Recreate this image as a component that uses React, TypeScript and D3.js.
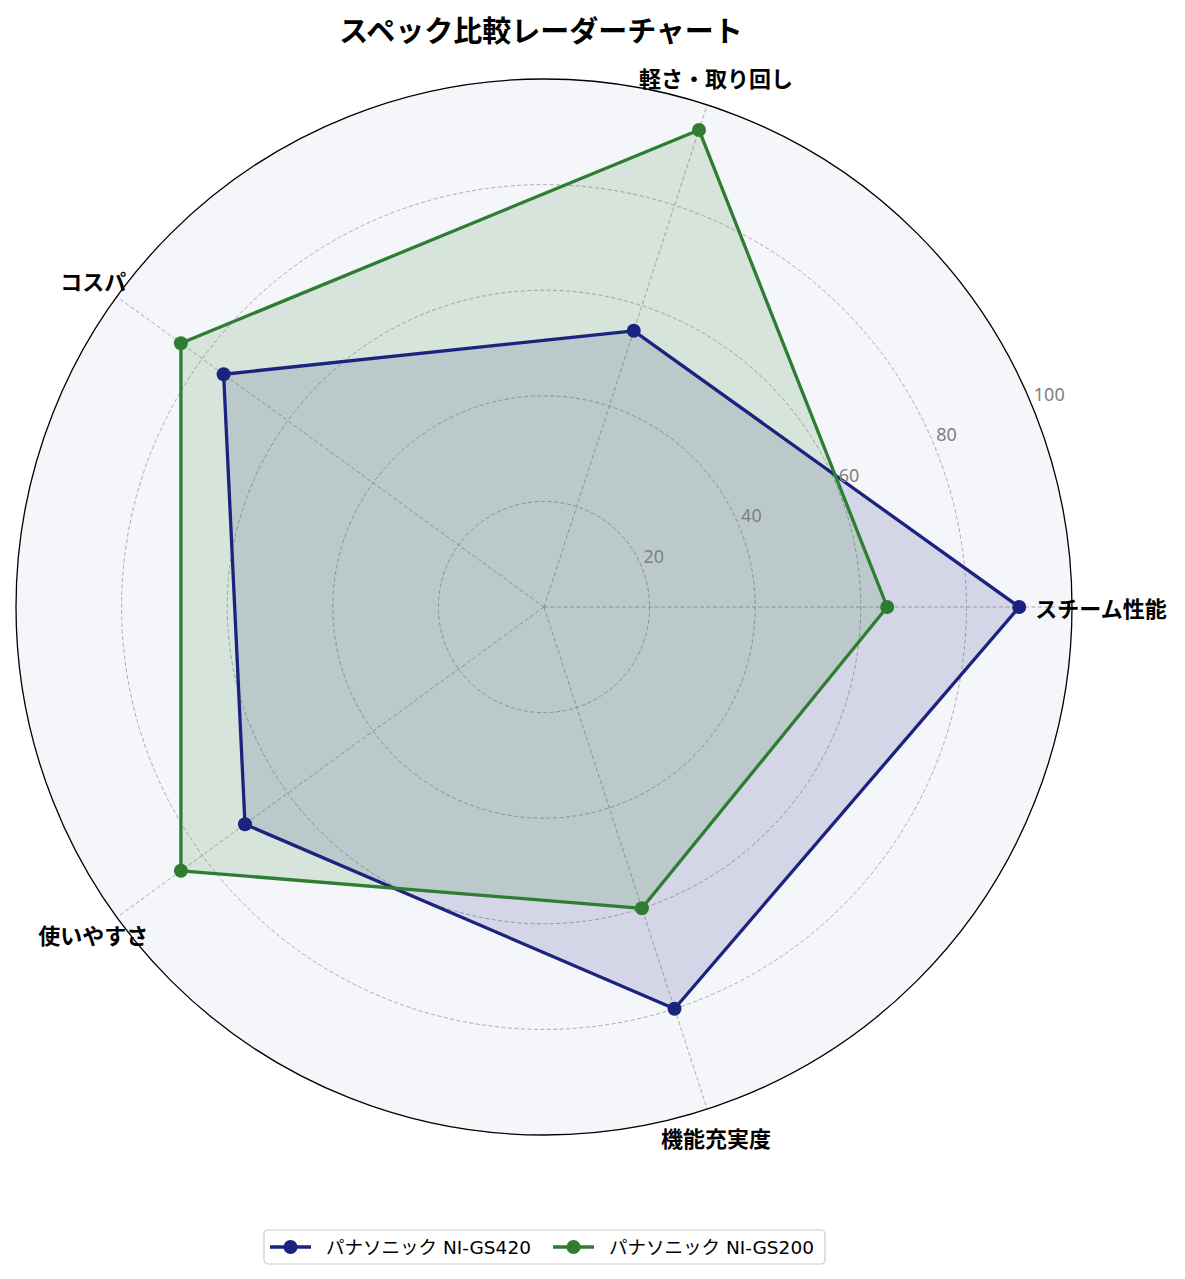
import React from "react";
import * as d3 from "d3";

const categories = ["スチーム性能", "軽さ・取り回し", "コスパ", "使いやすさ", "機能充実度"];
const seriesNames = ["パナソニック NI-GS420", "パナソニック NI-GS200"];
const gs420Values = [90, 55, 75, 70, 80];
const gs200Values = [65, 95, 85, 85, 60];
const seriesColors = ["#1a237e", "#2e7d32"];
const radialTicks = [20, 40, 60, 80, 100];

const W = 1185;
const H = 1279;
const cx = 544;
const cy = 607;
const R = 528;
const FONT = "'Noto Sans CJK JP', 'Noto Sans', sans-serif";
const LATIN_FONT = "'DejaVu Sans', 'Noto Sans CJK JP', sans-serif";

const App: React.FC = () => {
	const r = d3.scaleLinear().domain([0, 100]).range([0, R]);
	const angle = d3
		.scaleLinear()
		.domain([0, categories.length])
		.range([0, 2 * Math.PI]);
	// counter-clockwise from east, svg y flipped
	const pt = (i: number, v: number) => {
		const a = angle(i);
		return [cx + r(v) * Math.cos(a), cy - r(v) * Math.sin(a)];
	};
	const series = [gs420Values, gs200Values];
	const line = d3
		.line<number>()
		.x((v, i) => pt(i, v)[0])
		.y((v, i) => pt(i, v)[1])
		.curve(d3.curveLinearClosed);

	const labAng = Math.PI / 8;

	return (
		<svg
			width={W}
			height={H}
			style={{ position: "absolute", left: 0, top: 0, background: "#fff" }}
			fontFamily={FONT}
		>
			<circle cx={cx} cy={cy} r={R} fill="#f5f6fa" />
			{radialTicks.slice(0, -1).map((t) => (
				<circle
					key={t}
					cx={cx}
					cy={cy}
					r={r(t)}
					fill="none"
					stroke="#999"
					strokeWidth={0.8}
					strokeDasharray="4,2.5"
				/>
			))}
			{categories.map((c, i) => {
				const [x, y] = pt(i, 100);
				return (
					<line
						key={c}
						x1={cx}
						y1={cy}
						x2={x}
						y2={y}
						stroke="#999"
						strokeWidth={0.8}
						strokeDasharray="4,2.5"
					/>
				);
			})}
			{series.map((vals, s) => (
				<path
					key={"f" + s}
					d={line(vals) as string}
					fill={seriesColors[s]}
					fillOpacity={0.15}
					stroke="none"
				/>
			))}
			{series.map((vals, s) => (
				<g key={"s" + s}>
					<path
						d={line(vals) as string}
						fill="none"
						stroke={seriesColors[s]}
						strokeWidth={3.3}
						strokeLinejoin="round"
					/>
					{vals.map((v, i) => {
						const [x, y] = pt(i, v);
						return <circle key={i} cx={x} cy={y} r={7} fill={seriesColors[s]} />;
					})}
				</g>
			))}
			<circle cx={cx} cy={cy} r={R} fill="none" stroke="#000" strokeWidth={1.3} />
			{radialTicks.map((t) => (
				<text
					key={t}
					x={cx + r(t) * Math.cos(labAng) + 2}
					y={cy - r(t) * Math.sin(labAng) - 4}
					fill="#808080"
					fontSize={18}
					fontFamily="'Noto Sans', sans-serif"
					textAnchor="start"
				>
					{t}
				</text>
			))}
			{categories.map((c, i) => {
				const a = angle(i);
				return (
					<text
						key={c}
						x={cx + 557 * Math.cos(a)}
						y={cy - 557 * Math.sin(a)}
						fontSize={22}
						fontWeight="bold"
						textAnchor="middle"
						dominantBaseline="central"
					>
						{c}
					</text>
				);
			})}
			<text
				x={541}
				y={29}
				fontSize={29}
				fontWeight="bold"
				textAnchor="middle"
				dominantBaseline="central"
			>
				スペック比較レーダーチャート
			</text>
			<g transform="translate(264,1230)">
				<rect
					x={0}
					y={0}
					width={561}
					height={34}
					rx={4}
					fill="#fff"
					stroke="#ccc"
					strokeWidth={1.2}
				/>
				{seriesNames.map((n, s) => {
					const ox = 6 + s * 283;
					return (
						<g key={n} transform={`translate(${ox},17)`}>
							<line x1={0} x2={41} stroke={seriesColors[s]} strokeWidth={3.3} />
							<circle cx={20.5} cy={0} r={7} fill={seriesColors[s]} />
							<text
								x={56}
								y={0}
								fontSize={18.5}
								fontFamily={LATIN_FONT}
								dominantBaseline="central"
							>
								{n}
							</text>
						</g>
					);
				})}
			</g>
		</svg>
	);
};

export default App;
